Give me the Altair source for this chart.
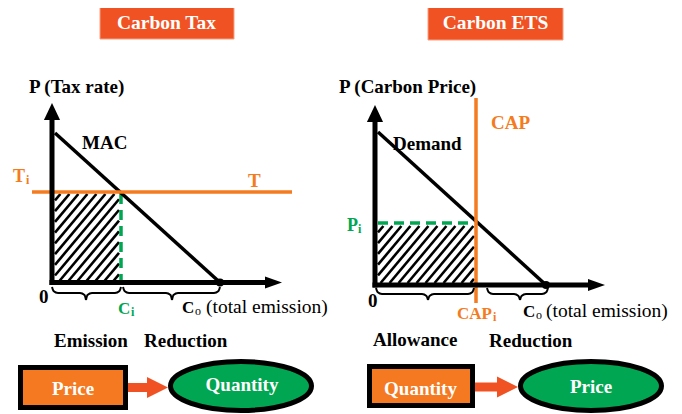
import math
import altair as alt
import pandas as pd

# ---------------- data (diagram coordinates = reference pixels) ----------------
ORANGE = "#F47B20"
RED_ORANGE = "#F05223"
BOX_ORANGE = "#F47920"
GREEN = "#00A651"
BLACK = "#000000"

# title banners
title_text = ["Carbon Tax", "Carbon ETS"]
title_x0 = [100, 428]
title_x1 = [234, 563]
title_y0 = [2, 2]
title_y1 = [39, 40]
title_tx = [166.5, 495.5]
title_ty = [29, 29]

# axes of the two panels
yaxis_x = [52, 375]
yaxis_top = [116, 119]
yaxis_bottom = [285, 287.5]
xaxis_y = [282.5, 285]
xaxis_left = [49.5, 372.5]
xaxis_right = [267, 590]
yarrow_tip = [103, 105]
xarrow_tip = [282, 605]

# MAC / Demand curves
curve_x0 = [55, 378]
curve_y0 = [133, 132]
curve_x1 = [220, 546]
curve_y1 = [282.5, 285]

# T line (horizontal) and CAP line (vertical)
orange_x0 = [32, 476]
orange_x1 = [292, 476]
orange_y0 = [192, 98]
orange_y1 = [192, 303]

# green dashed lines (C_i and P_i)
green_x0 = [121, 378]
green_x1 = [121, 474]
green_y0 = [194, 223]
green_y1 = [281, 223]

# hatched areas
hatch_x0 = [55, 378]
hatch_x1 = [119, 474]
hatch_y0 = [194, 226]
hatch_y1 = [281, 283]
hatch_angle = 50
hatch_step = 9

# braces under the x axes
brace_x0 = [52, 123, 376, 487]
brace_x1 = [121, 220, 474, 548]
brace_cx = [86, 172, 428, 520]
brace_top = [287, 287, 288, 288]
brace_tip = [300, 300, 300, 300]

# flow boxes, arrows, ellipses
box_text = ["Price", "Quantity"]
box_x0 = [20.5, 369.5]
box_x1 = [125.5, 472.5]
box_y0 = [367.5, 366.5]
box_y1 = [407.5, 405.5]
box_tx = [73, 420.5]
box_ty = [395, 395]

shaft_x0 = [126, 475]
shaft_x1 = [149, 499]
shaft_y0 = [383, 382.5]
shaft_y1 = [392, 391.5]
head_x = [157.5, 507.5]
head_y = [387.5, 387]

ell_text = ["Quantity", "Price"]
ell_x = [241, 591]
ell_y = [386, 386]
ell_tx = [242, 591]
ell_ty = [391, 393]

# plain bold labels
lab_text = ["P (Tax rate)", "P (Carbon Price)", "MAC", "Demand", "0", "0",
            "Emission", "Reduction", "Allowance", "Reduction"]
lab_x = [29, 339, 82, 393, 39, 368, 54, 144, 373, 489]
lab_y = [93, 93, 149, 150, 303, 307, 347, 347, 346, 347]

# symbol labels with subscripts
sym_text = ["T", "T", "CAP", "CAP", "P", "C", "C", "C"]
sym_x = [248, 13, 491, 457, 347, 118, 182, 523]
sym_y = [187, 182, 129, 319, 231, 314, 313, 317]
sym_size = [19, 18, 19, 17, 18, 17, 17, 17]
sym_color = [ORANGE, ORANGE, ORANGE, ORANGE, GREEN, GREEN, BLACK, BLACK]

subi_text = ["i", "i", "i", "i"]
subi_x = [26, 493, 358, 131]
subi_y = [184, 321, 233, 316]
subi_color = [ORANGE, ORANGE, GREEN, GREEN]

subo_text = ["o", "o"]
subo_x = [195, 536]
subo_y = [315, 319]

reg_text = ["(total emission)", "(total emission)"]
reg_x = [206, 546]
reg_y = [313, 317]

# ---------------- chart ----------------
W, H = 666, 406
xs = alt.Scale(domain=[8, 8 + W], nice=False, zero=False)
ys = alt.Scale(domain=[8, 8 + H], nice=False, zero=False, reverse=True)


def X(f="x"):
    return alt.X(f"{f}:Q", scale=xs, axis=None)


def Y(f="y"):
    return alt.Y(f"{f}:Q", scale=ys, axis=None)


def rules(df, **kw):
    return alt.Chart(df).mark_rule(**kw).encode(
        x=X("x"), y=Y("y"), x2=alt.X2("x2:Q"), y2=alt.Y2("y2:Q"))


FONT = "'Liberation Serif', 'DejaVu Serif', serif"

# banners
banners = alt.Chart(pd.DataFrame({"x": title_x0, "x2": title_x1, "y": title_y0, "y2": title_y1})).mark_rect(
    fill=RED_ORANGE, stroke="#F7A080", strokeWidth=1).encode(
    x=X("x"), x2=alt.X2("x2:Q"), y=Y("y"), y2=alt.Y2("y2:Q"))
banner_txt = alt.Chart(pd.DataFrame({"x": title_tx, "y": title_ty, "t": title_text})).mark_text(
    font=FONT, fontWeight="bold", fontSize=19.5, color="white", align="center", baseline="alphabetic").encode(
    x=X("x"), y=Y("y"), text="t:N")

# hatch segments clipped to each rectangle
hx, hy, hx2, hy2 = [], [], [], []
s_, c_ = math.sin(math.radians(hatch_angle)), math.cos(math.radians(hatch_angle))
for x0, x1, y0, y1 in zip(hatch_x0, hatch_x1, hatch_y0, hatch_y1):
    ks = [px * s_ + py * c_ for px in (x0, x1) for py in (y0, y1)]
    kmin, kmax = min(ks), max(ks)
    d = hatch_step * s_
    k = kmin + d * 0.6
    while k < kmax:
        xa = (k - y1 * c_) / s_
        xb = (k - y0 * c_) / s_
        lo, hi = max(x0, xa), min(x1, xb)
        if hi - lo > 0.5:
            hx.append(lo); hy.append((k - lo * s_) / c_)
            hx2.append(hi); hy2.append((k - hi * s_) / c_)
        k += d
hatch = rules(pd.DataFrame({"x": hx, "y": hy, "x2": hx2, "y2": hy2}), color=BLACK, strokeWidth=2.6)

# axes
ax_df = pd.DataFrame({
    "x": yaxis_x + xaxis_left, "x2": yaxis_x + xaxis_right,
    "y": yaxis_top + xaxis_y, "y2": yaxis_bottom + xaxis_y})
axes = rules(ax_df, color=BLACK, strokeWidth=5)

yarrow = alt.Chart(pd.DataFrame({"x": yaxis_x, "y": [t + 8.5 for t in yarrow_tip]})).mark_point(
    shape="M0,-1L-0.95,1L0.95,1Z", size=289, filled=True, fill=BLACK, opacity=1, strokeWidth=0).encode(
    x=X("x"), y=Y("y"))
xarrow = alt.Chart(pd.DataFrame({"x": [t - 8.5 for t in xarrow_tip], "y": xaxis_y})).mark_point(
    shape="M1,0L-1,-0.72L-1,0.72Z", size=289, filled=True, fill=BLACK, opacity=1, strokeWidth=0).encode(
    x=X("x"), y=Y("y"))

curves = rules(pd.DataFrame({"x": curve_x0, "y": curve_y0, "x2": curve_x1, "y2": curve_y1}),
               color=BLACK, strokeWidth=3.5)
dots = alt.Chart(pd.DataFrame({"x": curve_x1, "y": curve_y1})).mark_point(
    shape="circle", size=64, filled=True, fill=BLACK, opacity=1, strokeWidth=0).encode(x=X("x"), y=Y("y"))

orange_lines = rules(pd.DataFrame({"x": orange_x0, "y": orange_y0, "x2": orange_x1, "y2": orange_y1}),
                     color=ORANGE, strokeWidth=3.5)
green_lines = rules(pd.DataFrame({"x": green_x0, "y": green_y0, "x2": green_x1, "y2": green_y1}),
                    color=GREEN, strokeWidth=3.5, strokeDash=[10, 6])

# braces: each half is a smooth line
bx, by, bid = [], [], []
for i, (x0, x1, cx, yt, yp) in enumerate(zip(brace_x0, brace_x1, brace_cx, brace_top, brace_tip)):
    left = [(x0, yt), (x0 + 1.5, yt + 4), (x0 + 6, yt + 6), (cx - 6, yt + 6), (cx - 1.5, yt + 8), (cx, yp)]
    right = [(cx, yp), (cx + 1.5, yt + 8), (cx + 6, yt + 6), (x1 - 6, yt + 6), (x1 - 1.5, yt + 4), (x1, yt)]
    for px, py in left:
        bx.append(px); by.append(py); bid.append(f"{i}L")
    for px, py in right:
        bx.append(px); by.append(py); bid.append(f"{i}R")
braces = alt.Chart(pd.DataFrame({"x": bx, "y": by, "id": bid})).mark_line(
    color=BLACK, strokeWidth=2, interpolate="monotone").encode(x=X("x"), y=Y("y"), detail="id:N")

# flow boxes
boxes = alt.Chart(pd.DataFrame({"x": box_x0, "x2": box_x1, "y": box_y0, "y2": box_y1})).mark_rect(
    fill=BOX_ORANGE, stroke=BLACK, strokeWidth=5).encode(
    x=X("x"), x2=alt.X2("x2:Q"), y=Y("y"), y2=alt.Y2("y2:Q"))
box_txt = alt.Chart(pd.DataFrame({"x": box_tx, "y": box_ty, "t": box_text})).mark_text(
    font=FONT, fontWeight="bold", fontSize=19, color="white", align="center", baseline="alphabetic").encode(
    x=X("x"), y=Y("y"), text="t:N")
shafts = alt.Chart(pd.DataFrame({"x": shaft_x0, "x2": shaft_x1, "y": shaft_y0, "y2": shaft_y1})).mark_rect(
    fill=RED_ORANGE).encode(x=X("x"), x2=alt.X2("x2:Q"), y=Y("y"), y2=alt.Y2("y2:Q"))
heads = alt.Chart(pd.DataFrame({"x": head_x, "y": head_y})).mark_point(
    shape="M1,0L-1,-1L-1,1Z", size=441, filled=True, fill=RED_ORANGE, opacity=1, strokeWidth=0).encode(
    x=X("x"), y=Y("y"))

ELL = ("M-1,0C-1,-0.1919,-0.5523,-0.3475,0,-0.3475C0.5523,-0.3475,1,-0.1919,1,0"
       "C1,0.1919,0.5523,0.3475,0,0.3475C-0.5523,0.3475,-1,0.1919,-1,0Z")
ellipses = alt.Chart(pd.DataFrame({"x": ell_x, "y": ell_y})).mark_point(
    shape=ELL, size=19881, filled=True, fill=GREEN, stroke=BLACK, strokeWidth=5, opacity=1).encode(
    x=X("x"), y=Y("y"))
ell_txt = alt.Chart(pd.DataFrame({"x": ell_tx, "y": ell_ty, "t": ell_text})).mark_text(
    font=FONT, fontWeight="bold", fontSize=19, color="white", align="center", baseline="alphabetic").encode(
    x=X("x"), y=Y("y"), text="t:N")

# labels
labels = alt.Chart(pd.DataFrame({"x": lab_x, "y": lab_y, "t": lab_text})).mark_text(
    font=FONT, fontWeight="bold", fontSize=19, color=BLACK, align="left", baseline="alphabetic").encode(
    x=X("x"), y=Y("y"), text="t:N")
syms = alt.Chart(pd.DataFrame({"x": sym_x, "y": sym_y, "t": sym_text, "s": sym_size, "c": sym_color})).mark_text(
    font=FONT, fontWeight="bold", align="left", baseline="alphabetic").encode(
    x=X("x"), y=Y("y"), text="t:N", size=alt.Size("s:Q", scale=None, legend=None),
    color=alt.Color("c:N", scale=None, legend=None))
subi = alt.Chart(pd.DataFrame({"x": subi_x, "y": subi_y, "t": subi_text, "c": subi_color})).mark_text(
    font=FONT, fontWeight="bold", fontSize=12, align="left", baseline="alphabetic").encode(
    x=X("x"), y=Y("y"), text="t:N", color=alt.Color("c:N", scale=None, legend=None))
subo = alt.Chart(pd.DataFrame({"x": subo_x, "y": subo_y, "t": subo_text})).mark_text(
    font=FONT, fontSize=12, color=BLACK, align="left", baseline="alphabetic").encode(
    x=X("x"), y=Y("y"), text="t:N")
regular = alt.Chart(pd.DataFrame({"x": reg_x, "y": reg_y, "t": reg_text})).mark_text(
    font=FONT, fontSize=19.5, color=BLACK, align="left", baseline="alphabetic").encode(
    x=X("x"), y=Y("y"), text="t:N")

chart = alt.layer(
    banners, banner_txt, hatch, green_lines, curves, orange_lines, axes, yarrow, xarrow, dots,
    braces, shafts, heads, boxes, box_txt, ellipses, ell_txt, labels, syms, subi, subo, regular
).properties(
    width=W, height=H, padding=0, autosize=alt.AutoSizeParams(type="none"), background="white"
).configure_view(stroke=None)

chart.save("out.html", embed_options={"renderer": "svg", "actions": False})
